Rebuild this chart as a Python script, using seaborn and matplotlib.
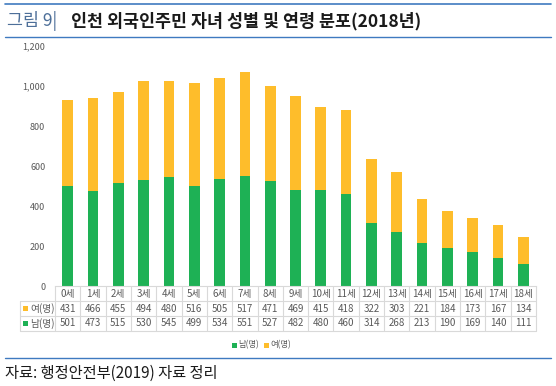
import matplotlib
matplotlib.use("Agg")
import matplotlib.pyplot as plt
import seaborn as sns
import pandas as pd
from matplotlib.lines import Line2D
from matplotlib.patches import Rectangle

ages = ["0세", "1세", "2세", "3세", "4세", "5세", "6세", "7세", "8세", "9세",
        "10세", "11세", "12세", "13세", "14세", "15세", "16세", "17세", "18세"]
female = [431, 466, 455, 494, 480, 516, 505, 517, 471, 469, 415, 418, 322, 303, 221, 184, 173, 167, 134]
male = [501, 473, 515, 530, 545, 499, 534, 551, 527, 482, 480, 460, 314, 268, 213, 190, 169, 140, 111]
yticks = [0, 200, 400, 600, 800, 1000, 1200]

GREEN = "#1EB155"
YELLOW = "#FEBD2B"
GRAY = "#595959"
LINE = "#D9D9D9"
BLUE = "#3F7AC0"

sns.set_theme(style="white")
plt.rcParams['font.family'] = ['Noto Sans CJK KR', 'DejaVu Sans']

W, H = 556, 386
fig = plt.figure(figsize=(W / 100, H / 100), dpi=100)

def P(x, y):
    return (x / W, 1 - y / H)

ax_l, ax_r, ax_t, ax_b = 55, 536, 46, 286
ax = fig.add_axes([ax_l / W, 1 - ax_b / H, (ax_r - ax_l) / W, (ax_b - ax_t) / H])

df = pd.DataFrame({"age": ages, "female": female, "male": male})
df["total"] = df["female"] + df["male"]

sns.barplot(data=df, x="age", y="total", color=YELLOW, width=0.42, ax=ax,
            saturation=1, edgecolor="none", linewidth=0)
sns.barplot(data=df, x="age", y="male", color=GREEN, width=0.42, ax=ax,
            saturation=1, edgecolor="none", linewidth=0)

ax.set_xlim(-0.5, len(ages) - 0.5)
ax.set_ylim(0, 1200)
ax.set_yticks(yticks)
ax.set_yticklabels([f"{v:,}" for v in yticks])
ax.tick_params(axis="y", length=0, pad=7, labelsize=6.5, labelcolor=GRAY)
ax.set_xticks([])
ax.set_xlabel("")
ax.set_ylabel("")
for s in ["top", "right", "left"]:
    ax.spines[s].set_visible(False)
ax.spines["bottom"].set_color(LINE)
ax.spines["bottom"].set_linewidth(0.8)

# Data table drawn below the axes
n = len(ages)
cw = (ax_r - ax_l) / n
for yy in (301, 316, 331):
    fig.add_artist(Line2D([20 / W, ax_r / W], [P(0, yy)[1]] * 2, color=LINE, lw=0.8))
fig.add_artist(Line2D([20 / W] * 2, [P(0, 301)[1], P(0, 331)[1]], color=LINE, lw=0.8))
for k in range(n + 1):
    x = ax_l + k * cw
    fig.add_artist(Line2D([x / W] * 2, [P(0, 286)[1], P(0, 331)[1]], color=LINE, lw=0.8))

fs_tab = 7
for i in range(n):
    cx = ax_l + (i + 0.5) * cw
    fig.text(*P(cx, 293.5), ages[i], ha="center", va="center", fontsize=fs_tab, color=GRAY)
    fig.text(*P(cx, 308.5), str(female[i]), ha="center", va="center", fontsize=fs_tab, color=GRAY)
    fig.text(*P(cx, 323.5), str(male[i]), ha="center", va="center", fontsize=fs_tab, color=GRAY)

# row labels with color keys
for yc, col, lab in [(308.5, YELLOW, "여(명)"), (323.5, GREEN, "남(명)")]:
    fig.add_artist(Rectangle(P(23, yc + 2.5), 5 / W, 5 / H, color=col, lw=0))
    fig.text(*P(30, yc), lab, ha="left", va="center", fontsize=fs_tab, color=GRAY)

# legend
for x0, col, lab in [(232, GREEN, "남(명)"), (264, YELLOW, "여(명)")]:
    fig.add_artist(Rectangle(P(x0, 347.5), 4.5 / W, 4.5 / H, color=col, lw=0))
    fig.text(*P(x0 + 6, 345), lab, ha="left", va="center", fontsize=6, color=GRAY)

# title and lines
fig.add_artist(Line2D([5 / W, 551 / W], [P(0, 3.5)[1]] * 2, color=BLUE, lw=1.2))
fig.add_artist(Line2D([5 / W, 551 / W], [P(0, 37)[1]] * 2, color=BLUE, lw=1.0))
fig.text(*P(7, 21), "그림 9|", ha="left", va="center", fontsize=12.5, color="#4D6F99")
fig.text(*P(71, 21), "인천 외국인주민 자녀 성별 및 연령 분포(2018년)", ha="left", va="center",
         fontsize=12.5, color="#1A1A1A", fontweight="bold")

fig.add_artist(Line2D([5 / W, 551 / W], [P(0, 357.5)[1]] * 2, color=BLUE, lw=1.0))
fig.text(*P(5, 373), "자료: 행정안전부(2019) 자료 정리", ha="left", va="center",
         fontsize=11, color="#1A1A1A")

fig.savefig("out.png", dpi=100)
